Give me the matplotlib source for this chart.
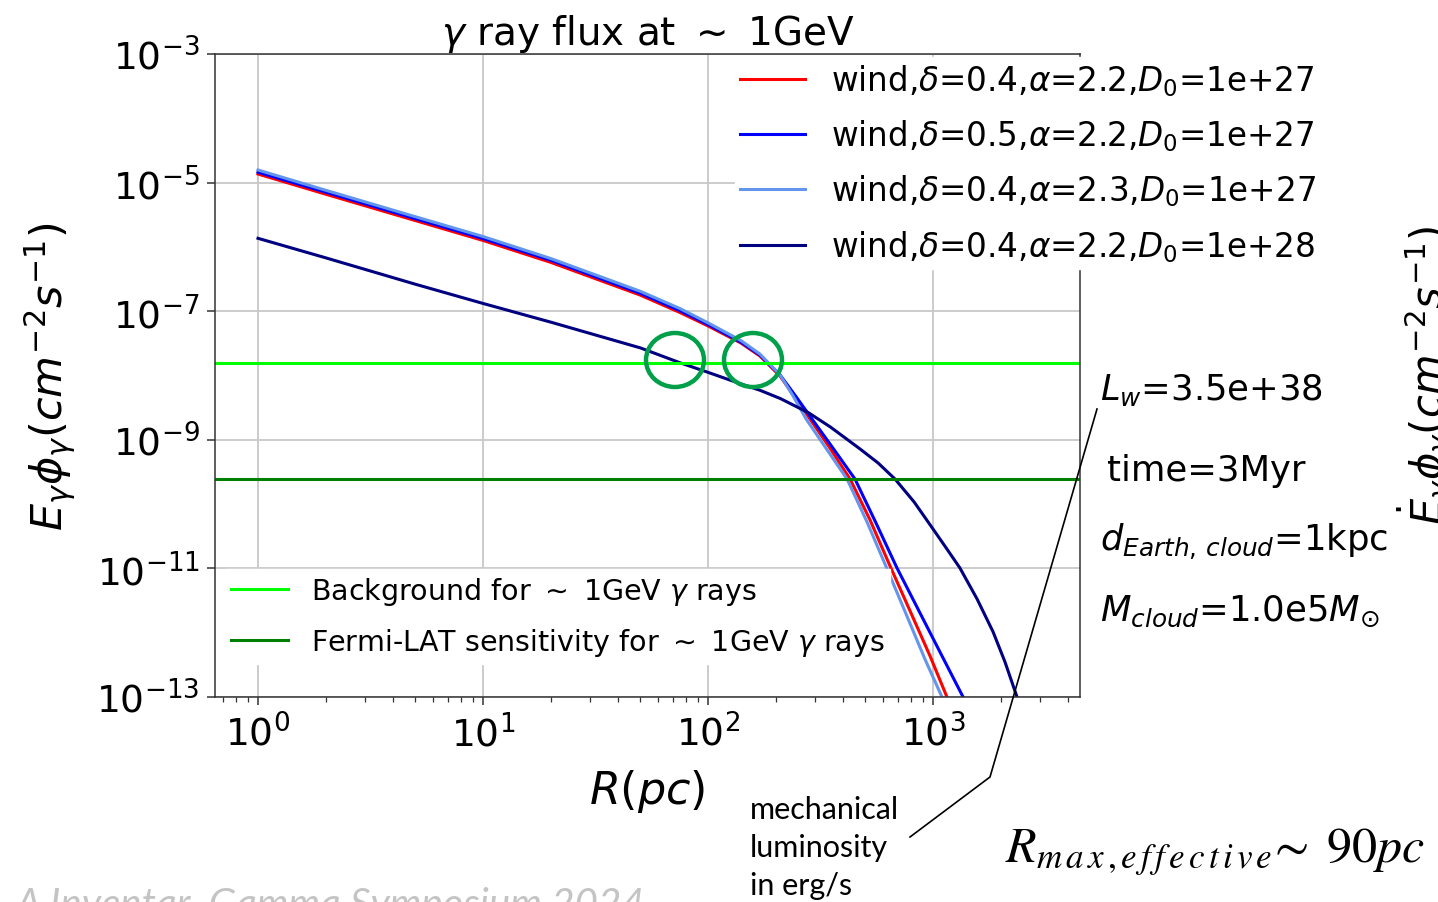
import matplotlib
matplotlib.use("Agg")
import matplotlib.pyplot as plt
from matplotlib.patches import Ellipse
from matplotlib.lines import Line2D

# radius (pc) and gamma flux at ~1GeV
R_red = [1, 2, 5, 10, 20, 50, 75, 100, 140, 170, 209, 243, 284, 348, 428, 525, 644, 791, 970, 1153, 1318]
F_red = [1.36e-5, 6.6e-6, 2.57e-6, 1.26e-6, 5.75e-7, 1.78e-7, 9.55e-8, 5.9e-8, 3.2e-8, 2.01e-8,
         9.8e-9, 4.63e-9, 2.10e-9, 7.45e-10, 2.45e-10, 5.66e-11, 1.09e-11, 2.17e-12, 4.34e-13, 1.0e-13, 3.8e-14]

R_blue = [1, 2, 5, 10, 20, 50, 75, 100, 140, 170, 209, 245, 290, 359, 450, 558, 692, 857, 1074, 1360, 1618]
F_blue = [1.45e-5, 7.1e-6, 2.75e-6, 1.35e-6, 6.2e-7, 1.9e-7, 1.02e-7, 6.2e-8, 3.3e-8, 2.08e-8,
          1.02e-8, 4.8e-9, 2.10e-9, 7.45e-10, 2.45e-10, 5.08e-11, 1.01e-11, 2.34e-12, 5.0e-13, 1.0e-13, 3.07e-14]

R_lblue = [1, 2, 5, 10, 20, 50, 75, 100, 140, 170, 209, 239, 273, 334, 415, 509, 625, 759, 920, 1096, 1253]
F_lblue = [1.57e-5, 7.6e-6, 2.95e-6, 1.45e-6, 6.6e-7, 2.04e-7, 1.10e-7, 6.6e-8, 3.5e-8, 2.16e-8,
           1.02e-8, 4.8e-9, 2.10e-9, 7.45e-10, 2.45e-10, 5.27e-11, 9.8e-12, 1.95e-12, 3.9e-13, 1.0e-13, 3.4e-14]

R_navy = [1, 2, 5, 10, 20, 50, 75, 100, 140, 170, 210, 280, 350, 474, 570, 678, 824, 1000,
          1153, 1318, 1570, 1849, 2089, 2362, 2564]
F_navy = [1.36e-6, 6.76e-7, 2.63e-7, 1.32e-7, 6.76e-8, 2.69e-8, 1.58e-8, 1.12e-8, 7.4e-9, 5.9e-9,
          4.37e-9, 2.63e-9, 1.58e-9, 7.2e-10, 4.36e-10, 2.45e-10, 1.08e-10, 4.1e-11,
          2.0e-11, 1.01e-11, 3.34e-12, 1.03e-12, 3.5e-13, 1.0e-13, 4.2e-14]

background = 1.56e-8
fermi_sens = 2.45e-10

labels = [r'wind,$\delta$=0.4,$\alpha$=2.2,$D_0$=1e+27',
          r'wind,$\delta$=0.5,$\alpha$=2.2,$D_0$=1e+27',
          r'wind,$\delta$=0.4,$\alpha$=2.3,$D_0$=1e+27',
          r'wind,$\delta$=0.4,$\alpha$=2.2,$D_0$=1e+28']
colors = ['red', 'blue', 'cornflowerblue', 'navy']

W, H = 1438, 903
fig = plt.figure(figsize=(W / 100, H / 100), dpi=100)
ax = fig.add_axes([215 / W, 1 - 698 / H, 865 / W, 643 / H])

curves = []
for R, F, c, lab in zip([R_red, R_blue, R_lblue, R_navy], [F_red, F_blue, F_lblue, F_navy], colors, labels):
    l, = ax.plot(R, F, color=c, lw=2.2, label=lab)
    curves.append(l)

h1 = ax.axhline(background, color='lime', lw=2.2, label=r'Background for $\sim$ 1GeV $\gamma$ rays')
h2 = ax.axhline(fermi_sens, color='green', lw=2.2, label=r'Fermi-LAT sensitivity for $\sim$ 1GeV $\gamma$ rays')

ax.set_xscale('log')
ax.set_yscale('log')
ax.set_xlim(0.644, 4500)
ax.set_ylim(1e-13, 1e-3)
ax.set_yticks([1e-13, 1e-11, 1e-9, 1e-7, 1e-5, 1e-3])
ax.yaxis.set_minor_locator(matplotlib.ticker.NullLocator())
ax.grid(True, which='major', color='#c8c8c8', lw=1.3)
ax.tick_params(which='major', labelsize=27, length=6, width=1.1, color='#333333')
ax.tick_params(which='minor', length=3.5, width=0.9, color='#333333')
ax.tick_params(axis='y', pad=5)
ax.tick_params(axis='x', pad=6)
for s in ax.spines.values():
    s.set_color('#333333')
    s.set_linewidth(1.1)

ax.set_title(r'$\gamma$ ray flux at $\sim$ 1GeV', fontsize=28, pad=2)
ax.set_xlabel(r'$R(pc)$', fontsize=32, labelpad=10)
ax.set_ylabel(r'$E_{\gamma}\phi_{\gamma}(cm^{-2}s^{-1})$', fontsize=31, labelpad=13)

leg1 = ax.legend(handles=curves, loc='upper left', bbox_to_anchor=((735 - 215) / 865, 0.995),
                 borderaxespad=0, fontsize=23.5, labelspacing=0.6, borderpad=0.15,
                 frameon=True, framealpha=1, edgecolor='white', fancybox=False)
ax.add_artist(leg1)
leg2 = ax.legend(handles=[h1, h2], loc='lower left', bbox_to_anchor=(0.012, 0.052),
                 borderaxespad=0, fontsize=20.5, labelspacing=0.67, borderpad=0.2,
                 frameon=True, framealpha=1, edgecolor='white', fancybox=False)

# green circles around the crossings
for cx in [675, 753]:
    fig.patches.append(Ellipse((cx / W, 1 - 361 / H), 58 / W, 54 / H, transform=fig.transFigure,
                               fill=False, edgecolor='#00a04a', lw=3.2, zorder=10))

# annotation text on the right
fig.text(1100 / W, 1 - 390 / H, r'$L_w$=3.5e+38', fontsize=25.5, va='center', ha='left')
fig.text(1107 / W, 1 - 471 / H, 'time=3Myr', fontsize=25.5, va='center', ha='left')
fig.text(1100 / W, 1 - 542 / H, r'$d_{Earth,\,cloud}$=1kpc', fontsize=25.5, va='center', ha='left')
fig.text(1100 / W, 1 - 611 / H, r'$M_{cloud}$=1.0e5$M_{\odot}$', fontsize=25.5, va='center', ha='left')

# clipped copy of the y label on the right edge
fig.text(1395 / W, 1 - 375 / H, r'$\dot{E}_{\gamma}\phi_{\gamma}(cm^{-2}s^{-1})$', fontsize=30,
         rotation=90, va='center', ha='left')

# pointer line to the L_w text
fig.lines.append(Line2D([1097 / W, 990 / W, 910 / W], [1 - 410 / H, 1 - 778 / H, 1 - 838 / H],
                        transform=fig.transFigure, color='black', lw=1.2))
fig.text(750 / W, 1 - 848 / H, 'mechanical\nluminosity\nin erg/s', fontsize=22, family='Lato',
         va='center', ha='left', linespacing=1.42)

fig.text(1005 / W, 1 - 852 / H, r'$R_{m\,a\,x\,,e\,f\,f\,e\,c\,t\,i\,v\,e}\!\sim\;90pc$', fontsize=36,
         math_fontfamily='stix', va='center', ha='left')

fig.text(15 / W, 1 - 917 / H, 'A.Inventar, Gamma Symposium 2024', fontsize=29, color='#c4c4c4',
         style='italic', family='Lato', va='baseline', ha='left')

fig.savefig('out.png', dpi=100)
